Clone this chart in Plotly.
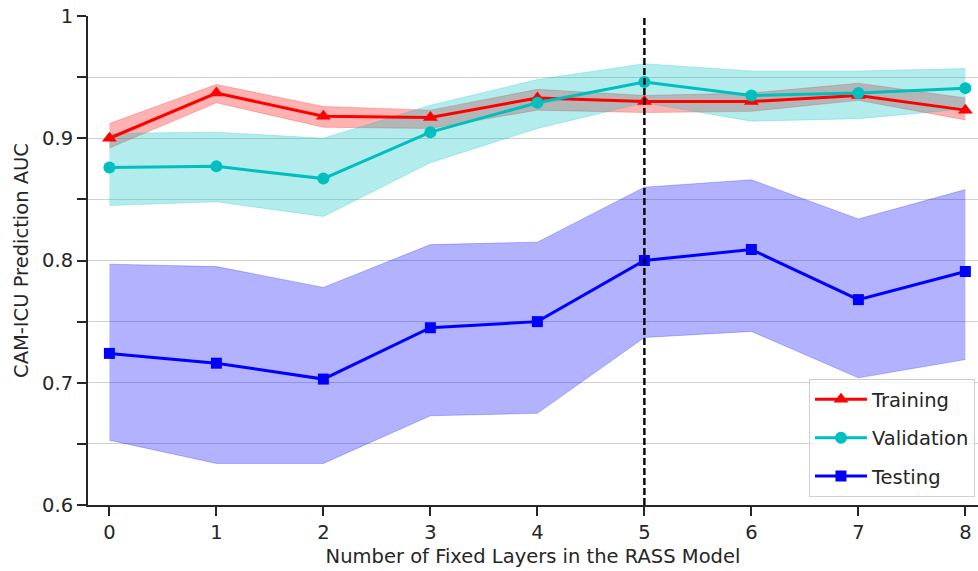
import plotly.graph_objects as go

# Number of fixed layers transferred from the RASS model
layers = [0, 1, 2, 3, 4, 5, 6, 7, 8]

# Mean AUC per split
train_auc = [0.900, 0.937, 0.918, 0.917, 0.933, 0.930, 0.930, 0.935, 0.923]
val_auc = [0.876, 0.877, 0.867, 0.905, 0.929, 0.946, 0.935, 0.937, 0.941]
test_auc = [0.724, 0.716, 0.703, 0.745, 0.750, 0.800, 0.809, 0.768, 0.791]

# Shaded band bounds (upper / lower) per split
train_hi = [0.912, 0.944, 0.926, 0.923, 0.940, 0.935, 0.937, 0.945, 0.933]
train_lo = [0.892, 0.929, 0.909, 0.908, 0.923, 0.921, 0.922, 0.931, 0.915]
val_hi = [0.904, 0.905, 0.900, 0.927, 0.948, 0.961, 0.955, 0.955, 0.957]
val_lo = [0.845, 0.848, 0.836, 0.880, 0.908, 0.929, 0.914, 0.916, 0.924]
test_hi = [0.797, 0.795, 0.778, 0.813, 0.815, 0.860, 0.866, 0.834, 0.858]
test_lo = [0.653, 0.634, 0.634, 0.673, 0.675, 0.737, 0.742, 0.704, 0.719]

selected_layer = 5

y_tickvals = [0.6, 0.7, 0.8, 0.9, 1.0]
y_ticktext = ["0.6", "0.7", "0.8", "0.9", "1"]

series = [
    ("Training", train_auc, train_hi, train_lo, "#ff0000", "rgba(255,0,0,0.3)", "triangle-up", 13),
    ("Validation", val_auc, val_hi, val_lo, "#00bfbf", "rgba(0,191,191,0.3)", "circle", 12),
    ("Testing", test_auc, test_hi, test_lo, "#0000ff", "rgba(0,0,255,0.3)", "square", 11),
]

fig = go.Figure()

# Bands first, so the lines sit on top
for name, mean, hi, lo, color, fill, sym, size in series:
    fig.add_trace(go.Scatter(x=layers, y=hi, mode="lines", line=dict(width=0.8, color=fill),
                             showlegend=False, hoverinfo="skip"))
    fig.add_trace(go.Scatter(x=layers, y=lo, mode="lines", line=dict(width=0.8, color=fill),
                             fill="tonexty", fillcolor=fill, showlegend=False, hoverinfo="skip"))

for name, mean, hi, lo, color, fill, sym, size in series:
    fig.add_trace(go.Scatter(x=layers, y=mean, mode="lines+markers", name=name,
                             legendgroup=name,
                             line=dict(color=color, width=3),
                             marker=dict(symbol=sym, size=size, color=color)))

fig.add_shape(type="line", xref="x", yref="y", x0=selected_layer, x1=selected_layer,
              y0=0.6, y1=1.0, line=dict(color="black", width=2.4, dash="7px,3px"))

font_family = "DejaVu Sans"
text_color = "#262626"

fig.update_layout(
    width=978, height=571,
    margin=dict(l=88, r=0, t=16, b=66),
    paper_bgcolor="white", plot_bgcolor="white",
    font=dict(family=font_family, color=text_color, size=19),
    legend=dict(x=0.9966, y=0.016, xanchor="right", yanchor="bottom",
                bgcolor="rgba(255,255,255,0.8)", bordercolor="#d0d0d0", borderwidth=1,
                font=dict(size=19.5, color=text_color), tracegroupgap=10, itemwidth=52),
    showlegend=True,
)

fig.update_xaxes(
    range=[-0.2, 8.118], tickvals=layers, showgrid=False, zeroline=False,
    showline=True, linecolor=text_color, linewidth=2,
    ticks="outside", ticklen=9, tickwidth=1.5, tickcolor=text_color,
    tickfont=dict(size=19.5, color=text_color),
    title=dict(text="Number of Fixed Layers in the RASS Model", font=dict(size=19.5, color=text_color), standoff=6),
)

fig.update_yaxes(
    range=[0.6, 1.0], tickvals=y_tickvals, ticktext=y_ticktext, zeroline=False,
    showgrid=True, gridcolor="#d0d0d0", gridwidth=1,
    showline=True, linecolor=text_color, linewidth=2,
    ticks="outside", ticklen=9, tickwidth=1.5, tickcolor=text_color,
    tickfont=dict(size=19.5, color=text_color),
    minor=dict(dtick=0.05, tick0=0.6, showgrid=True, gridcolor="#d0d0d0", gridwidth=1,
               ticks="outside", ticklen=9, tickwidth=1.5, tickcolor=text_color),
    title=dict(text="CAM-ICU Prediction AUC", font=dict(size=19.5, color=text_color), standoff=8),
)

fig.write_html("out.html")
